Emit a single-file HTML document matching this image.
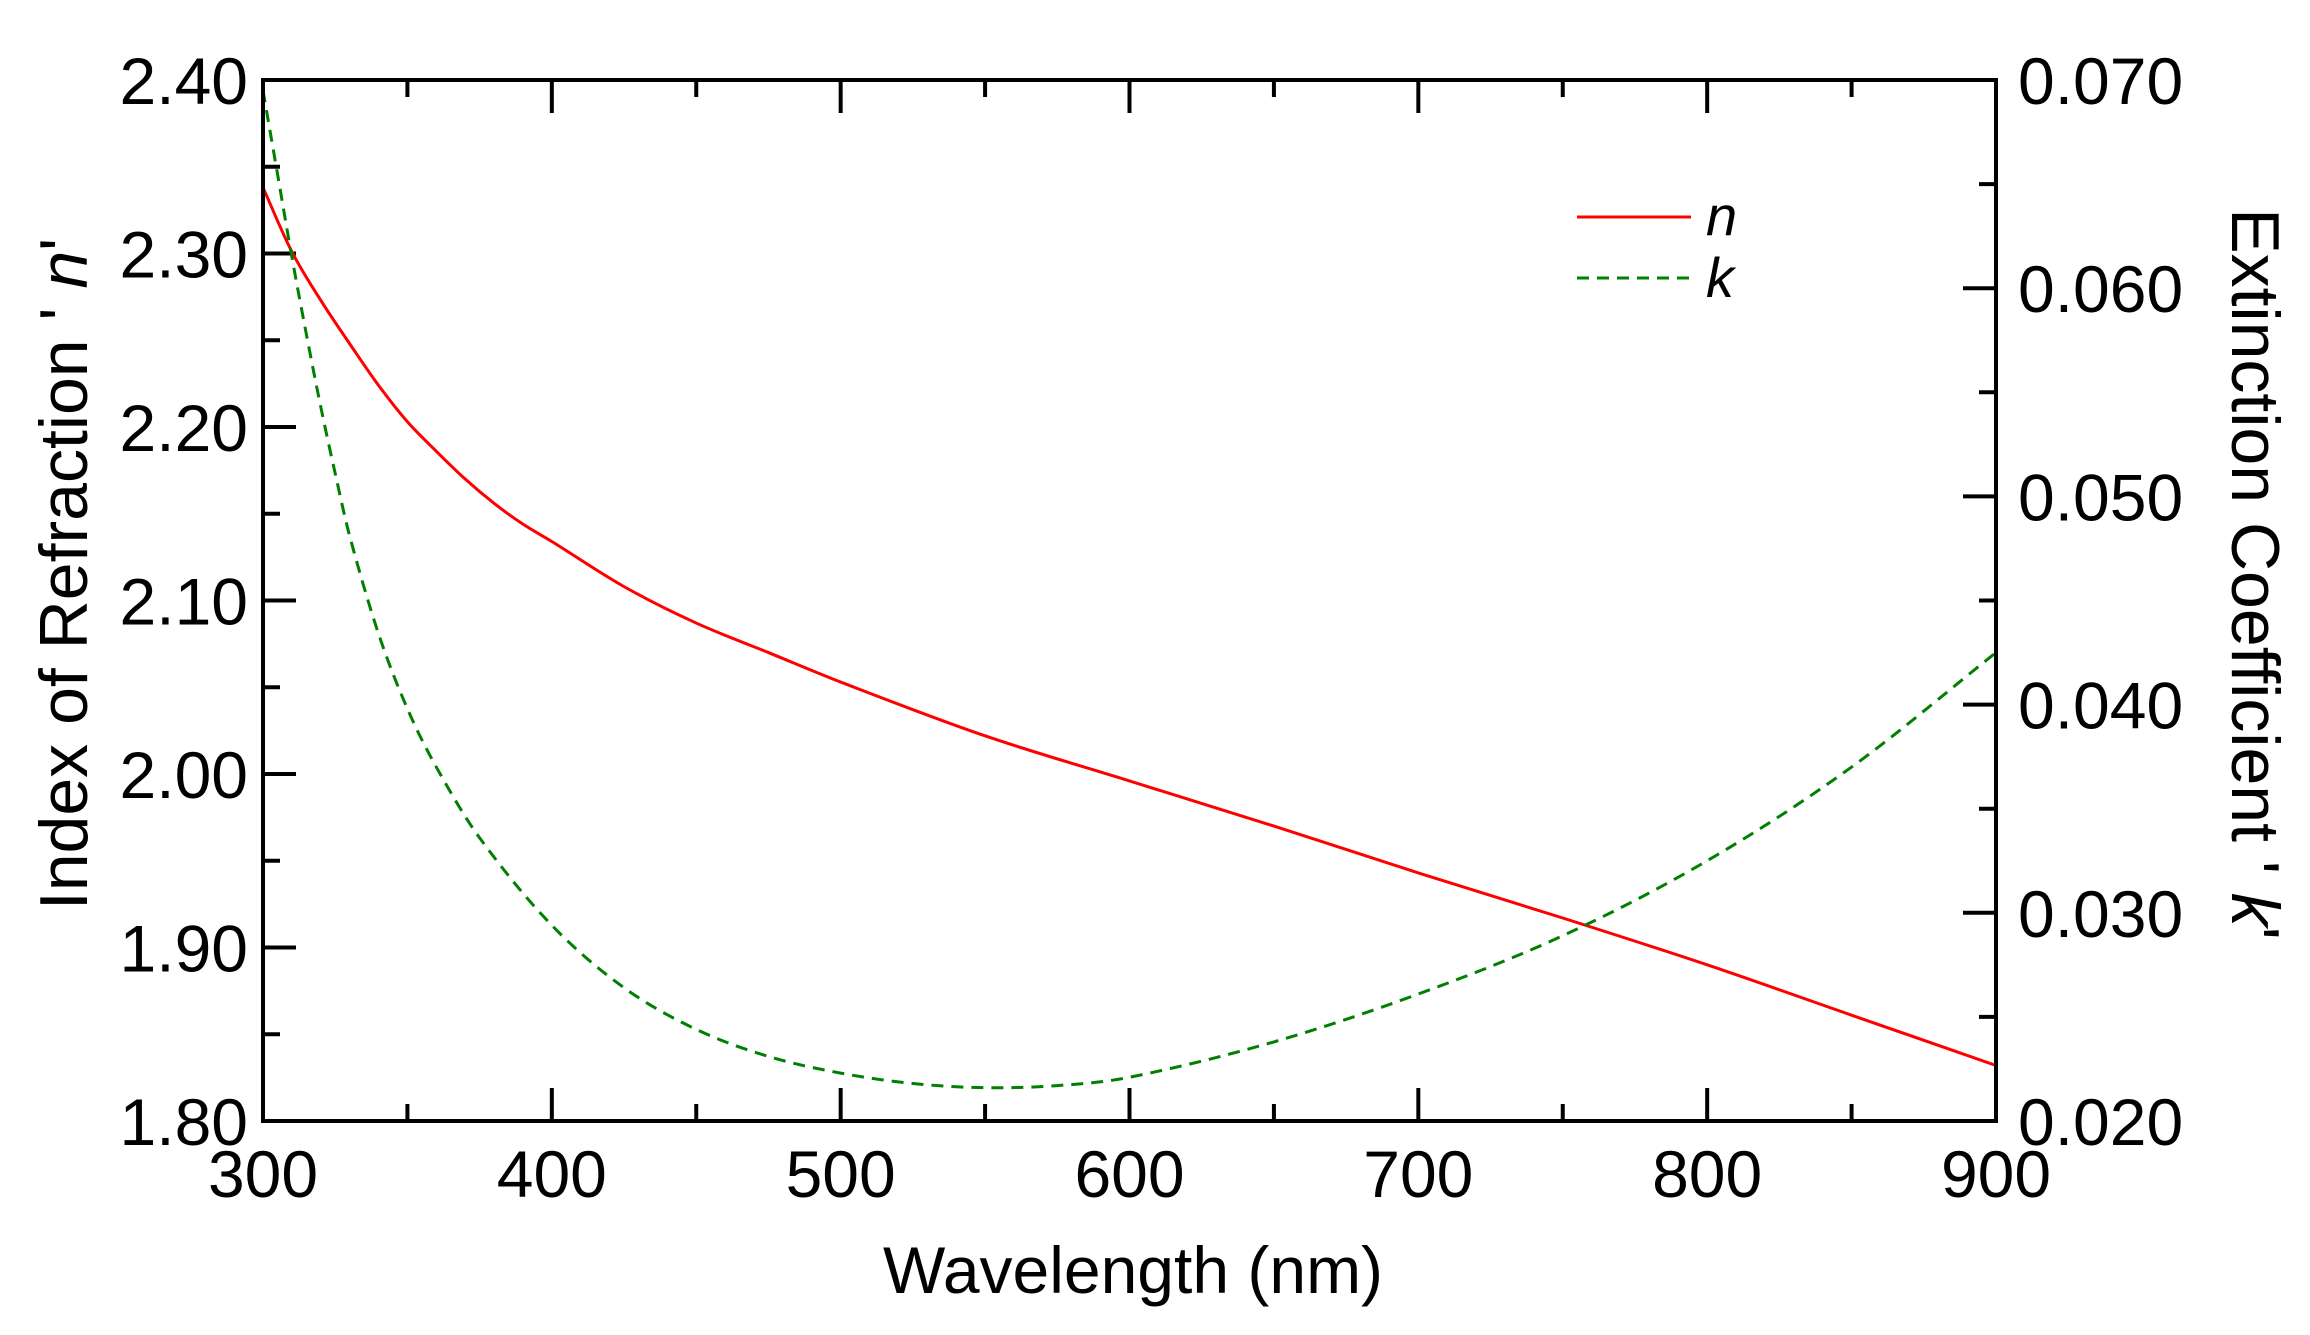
<!DOCTYPE html>
<html><head><meta charset="utf-8"><style>
html,body{margin:0;padding:0;background:#fff;}
svg{display:block;font-family:"Liberation Sans",sans-serif;}
</style></head><body>
<svg id="chart" width="2310" height="1335" viewBox="0 0 2310 1335" xmlns="http://www.w3.org/2000/svg">
<rect x="0" y="0" width="2310" height="1335" fill="#fff"/>
<g id="grid-ticks"></g>
<g id="series"></g>
<rect x="263" y="80" width="1733" height="1041" fill="none" stroke="#000" stroke-width="4"/>
<g id="labels"></g>
<text x="1133" y="1293" font-size="66" text-anchor="middle">Wavelength (nm)</text>
<text transform="translate(87,574) rotate(-90)" font-size="68" text-anchor="middle">Index of Refraction ' <tspan font-style="italic">n</tspan>'</text>
<text transform="translate(2232,574) rotate(90)" font-size="68" text-anchor="middle">Extinction Coefficient ' <tspan font-style="italic">k</tspan>'</text>
<g>
<line x1="1577" y1="217" x2="1691" y2="217" stroke="#ff0000" stroke-width="3"/>
<text x="1706" y="235" font-size="56" font-style="italic">n</text>
<line x1="1577" y1="278" x2="1691" y2="278" stroke="#008000" stroke-width="3" stroke-dasharray="12,8"/>
<text x="1706" y="297" font-size="56" font-style="italic">k</text>
</g>
</svg>
<script>
const nWavelengths = [300,310,320,330,340,350,360,370,380,390,400,425,450,475,500,550,600,650,700,750,800,850,900];
const nValues = [2.338,2.301,2.273,2.248,2.224,2.203,2.186,2.170,2.156,2.144,2.134,2.108,2.087,2.070,2.053,2.022,1.996,1.970,1.943,1.917,1.890,1.861,1.832];
const kWavelengths = [300,305,310,315,320,325,330,340,350,360,375,400,425,450,475,500,525,550,575,600,650,700,750,800,850,900];
const kValues = [0.0695,0.0655,0.0615,0.0578,0.0543,0.0511,0.0481,0.0434,0.0398,0.0370,0.0336,0.0294,0.0264,0.0244,0.0231,0.0223,0.0218,0.0216,0.0217,0.0221,0.0238,0.0261,0.0289,0.0325,0.0370,0.0425];
const xTicks = [300,400,500,600,700,800,900];
const nTicks = [1.80,1.90,2.00,2.10,2.20,2.30,2.40];
const kTicks = [0.020,0.030,0.040,0.050,0.060,0.070];

const L=263,R=1996,T=80,B=1121;
const NS="http://www.w3.org/2000/svg";
const xS=v=>L+(v-300)/600*(R-L);
const nS=v=>B-(v-1.8)/0.6*(B-T);
const kS=v=>B-(v-0.02)/0.05*(B-T);
function mk(tag,attrs,parent){const e=document.createElementNS(NS,tag);for(const a in attrs)e.setAttribute(a,attrs[a]);parent.appendChild(e);return e;}
const tg=document.getElementById('grid-ticks'),lg=document.getElementById('labels'),sg=document.getElementById('series');
function tick(x1,y1,x2,y2,name){const l=mk('line',{x1,y1,x2,y2,stroke:'#000','stroke-width':4},tg);

}
for(let v=300;v<=900;v+=50){const x=xS(v),len=(v%100===0)?33:17;tick(x,B,x,B-len,'x-tick');tick(x,T,x,T+len,'x-tick-top');}
for(let i=0;i<=12;i++){const v=1.8+i*0.05,y=nS(v),len=(i%2===0)?33:17;tick(L,y,L+len,y,'left-y-tick');}
for(let i=0;i<=10;i++){const v=0.02+i*0.005,y=kS(v),len=(i%2===0)?33:17;tick(R,y,R-len,y,'right-y-tick');}
xTicks.forEach(v=>{const t=mk('text',{x:xS(v),y:1197,'font-size':66,'text-anchor':'middle'},lg);t.textContent=v;

});
nTicks.forEach(v=>{const t=mk('text',{x:248,y:nS(v)+24,'font-size':66,'text-anchor':'end'},lg);t.textContent=v.toFixed(2);

});
kTicks.forEach(v=>{const t=mk('text',{x:2018,y:kS(v)+24,'font-size':66},lg);t.textContent=v.toFixed(3);

});
function path(xs,ys){const p=xs.map((x,i)=>[x,ys[i]]);let d=`M${p[0][0]},${p[0][1]}`;
for(let i=0;i<p.length-1;i++){const p0=p[Math.max(0,i-1)],p1=p[i],p2=p[i+1],p3=p[Math.min(p.length-1,i+2)];
const h=p2[0]-p1[0];
const s1=(p2[1]-p0[1])/(p2[0]-p0[0]||1),s2=(p3[1]-p1[1])/(p3[0]-p1[0]||1);
const c1=[p1[0]+h/3,p1[1]+s1*h/3],c2=[p2[0]-h/3,p2[1]-s2*h/3];
d+=` C${c1[0]},${c1[1]} ${c2[0]},${c2[1]} ${p2[0]},${p2[1]}`;}return d;}
const nl=mk('path',{d:path(nWavelengths.map(xS),nValues.map(nS)),fill:'none',stroke:'#ff0000','stroke-width':3},sg);


const kl=mk('path',{d:path(kWavelengths.map(xS),kValues.map(kS)),fill:'none',stroke:'#008000','stroke-width':3,'stroke-dasharray':'12,8'},sg);


</script>
</body></html>
